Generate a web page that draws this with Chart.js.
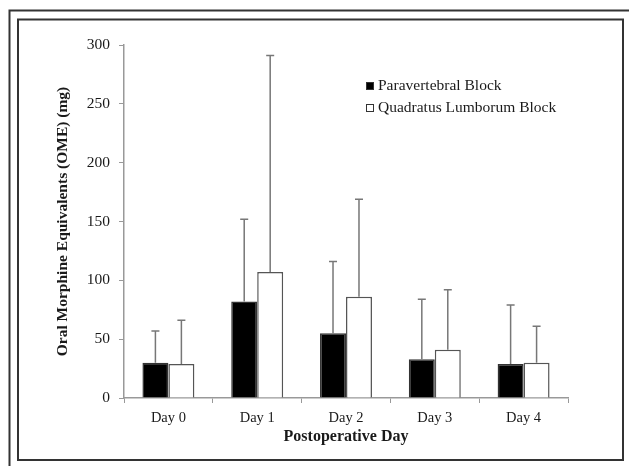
<!DOCTYPE html>
<html lang="en">
<head>
<meta charset="utf-8">
<title>Oral Morphine Equivalents</title>
<script src="https://cdn.jsdelivr.net/npm/chart.js@4"></script>
<style>
  html, body { margin: 0; padding: 0; background: #fff; }
  #wrap { width: 629px; height: 466px; }
</style>
</head>
<body>
<div id="wrap"><canvas id="c"></canvas></div>
<script>
// values
const days = ["Day 0", "Day 1", "Day 2", "Day 3", "Day 4"];
const paravertebral = [30, 82, 55, 33, 29];
const paravertebralSD = [27, 70, 61, 51, 50];
const quadratus = [29, 107, 86, 41, 30];
const quadratusSD = [37, 184, 83, 51, 31];
const yTicks = [0, 50, 100, 150, 200, 250, 300];

const serif = "'Liberation Serif', 'Times New Roman', serif";
const sdByDataset = [paravertebralSD, quadratusSD];

// frames around the figure
const framePlugin = {
  id: "frames",
  beforeDraw(chart) {
    const ctx = chart.ctx;
    ctx.save();
    ctx.fillStyle = "#fff";
    ctx.fillRect(0, 0, chart.width, chart.height);
    ctx.strokeStyle = "#333";
    ctx.lineWidth = 2;
    // outer frame, only top and left show
    ctx.beginPath();
    ctx.moveTo(9.5, chart.height + 5);
    ctx.lineTo(9.5, 10.5);
    ctx.lineTo(chart.width + 5, 10.5);
    ctx.stroke();
    // inner frame
    ctx.strokeRect(18, 19.5, 605, 440.5);
    ctx.restore();
  }
};

// upward error bars
const errorPlugin = {
  id: "errorBars",
  afterDatasetsDraw(chart) {
    const ctx = chart.ctx;
    const y = chart.scales.y;
    ctx.save();
    ctx.strokeStyle = "#777";
    ctx.lineWidth = 1.5;
    chart.data.datasets.forEach((ds, i) => {
      const meta = chart.getDatasetMeta(i);
      meta.data.forEach((bar, j) => {
        const top = y.getPixelForValue(ds.data[j] + sdByDataset[i][j]);
        ctx.beginPath();
        ctx.moveTo(bar.x, bar.y);
        ctx.lineTo(bar.x, top);
        ctx.moveTo(bar.x - 4, top);
        ctx.lineTo(bar.x + 4, top);
        ctx.stroke();
      });
    });
    ctx.restore();
  }
};

// legend inside the plot
const legendPlugin = {
  id: "insideLegend",
  afterDraw(chart) {
    const ctx = chart.ctx;
    ctx.save();
    ctx.font = "15.5px " + serif;
    ctx.textBaseline = "middle";
    chart.data.datasets.forEach((ds, i) => {
      const cy = 86 + i * 22;
      ctx.fillStyle = ds.backgroundColor;
      ctx.fillRect(366, cy - 4, 8, 8);
      ctx.strokeStyle = "#333";
      ctx.lineWidth = 1;
      ctx.strokeRect(366.5, cy - 3.5, 7, 7);
      ctx.fillStyle = "#1a1a1a";
      ctx.fillText(ds.label, 378, cy);
    });
    ctx.restore();
  }
};

new Chart(document.getElementById("c"), {
  type: "bar",
  data: {
    labels: days,
    datasets: [
      {
        label: "Paravertebral Block",
        data: paravertebral,
        backgroundColor: "#000",
        borderColor: "#333",
        borderWidth: 1.5,
        categoryPercentage: 0.585,
        barPercentage: 1
      },
      {
        label: "Quadratus Lumborum Block",
        data: quadratus,
        backgroundColor: "#fff",
        borderColor: "#555",
        borderWidth: 1.5,
        categoryPercentage: 0.585,
        barPercentage: 1
      }
    ]
  },
  options: {
    responsive: true,
    maintainAspectRatio: false,
    animation: false,
    layout: { padding: { left: 0, right: 61, top: 45, bottom: 0 } },
    plugins: {
      legend: { display: false },
      tooltip: { enabled: false }
    },
    scales: {
      x: {
        grid: { display: true, drawOnChartArea: false, drawTicks: true, tickLength: 5, color: "#999", offset: true },
        border: { color: "#999", width: 1.5 },
        ticks: { color: "#1a1a1a", padding: 6, font: { family: serif, size: 14.5 } },
        title: {
          display: true,
          text: "Postoperative Day",
          color: "#1a1a1a",
          font: { family: serif, size: 16, weight: "bold" },
          padding: { top: 0, bottom: 20 }
        },
        afterFit(scale) { scale.height = 68; }
      },
      y: {
        min: 0,
        max: 300,
        afterBuildTicks(scale) { scale.ticks = yTicks.map(v => ({ value: v })); },
        grid: { display: true, drawOnChartArea: false, drawTicks: true, tickLength: 5, color: "#999" },
        border: { color: "#999", width: 1.5 },
        ticks: { color: "#1a1a1a", padding: 9, font: { family: serif, size: 15.5 } },
        title: {
          display: true,
          text: "Oral Morphine Equivalents (OME) (mg)",
          color: "#1a1a1a",
          font: { family: serif, size: 15.5, weight: "bold" },
          padding: { top: 54, bottom: 0 }
        },
        afterFit(scale) { scale.width = 124; }
      }
    }
  },
  plugins: [framePlugin, errorPlugin, legendPlugin]
});
</script>
</body>
</html>
